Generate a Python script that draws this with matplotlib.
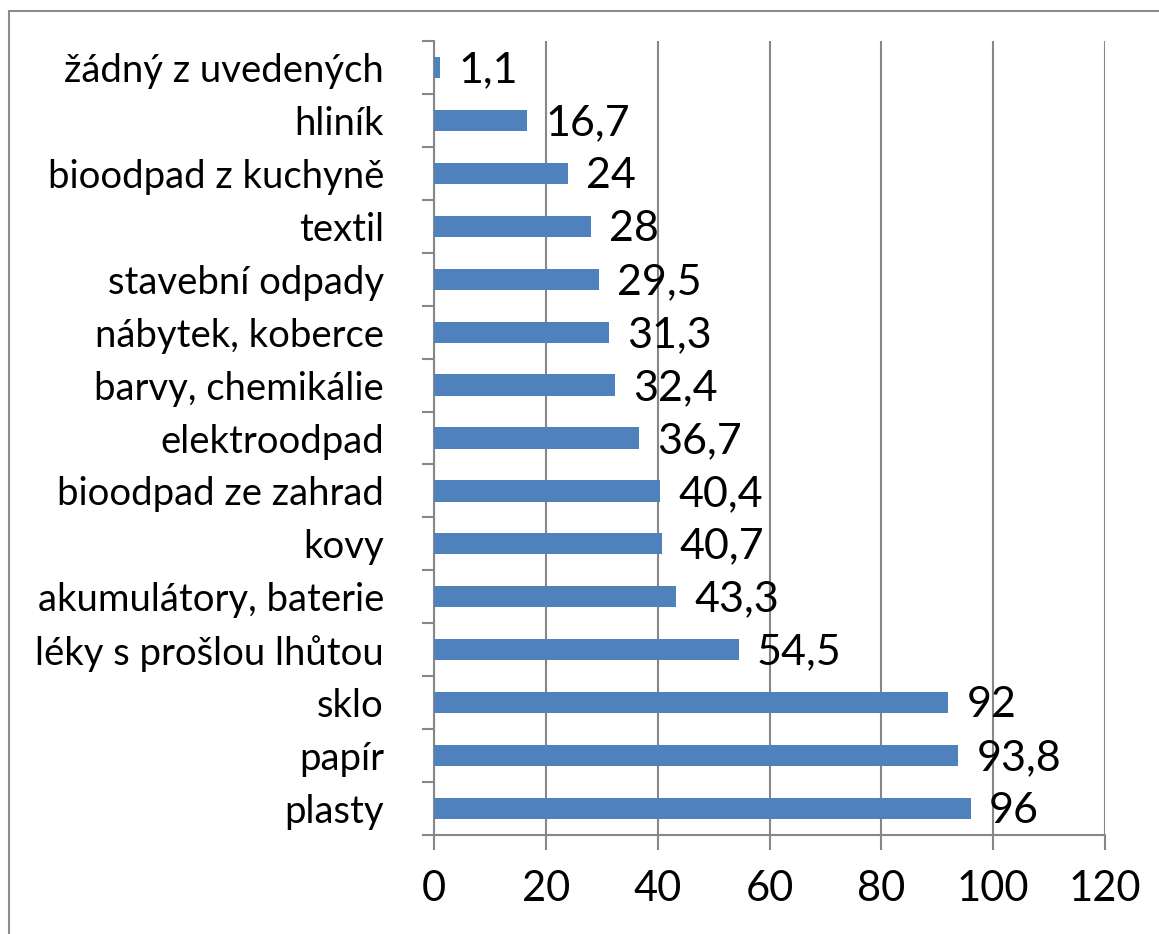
import matplotlib
matplotlib.use("Agg")
import matplotlib.pyplot as plt
from matplotlib.patches import Rectangle
import numpy as np

plt.rcParams['font.family'] = ['Lato', 'DejaVu Sans']

categories = ['plasty', 'papír', 'sklo', 'léky s prošlou lhůtou', 'akumulátory, baterie',
              'kovy', 'bioodpad ze zahrad', 'elektroodpad', 'barvy, chemikálie',
              'nábytek, koberce', 'stavební odpady', 'textil', 'bioodpad z kuchyně',
              'hliník', 'žádný z uvedených']
values = [96, 93.8, 92, 54.5, 43.3, 40.7, 40.4, 36.7, 32.4, 31.3, 29.5, 28, 24, 16.7, 1.1]
xticks = [0, 20, 40, 60, 80, 100, 120]

bar_color = '#4F81BD'
grid_color = '#878787'

fig = plt.figure(figsize=(11.59, 9.34), dpi=100)
ax = fig.add_axes([434 / 1159, 1 - 835 / 934, (1105 - 434) / 1159, (835 - 41) / 934])

# outer chart border (runs off the right and bottom edges)
fig.patches.append(Rectangle((9 / 1159, -0.1), 1.2, 1 - 11 / 934 + 0.1, transform=fig.transFigure,
                             fill=False, edgecolor='#8c8c8c', linewidth=1.5))

y = np.arange(len(categories))
ax.barh(y, values, height=0.4, color=bar_color, zorder=3)

for yi, v in zip(y, values):
    ax.annotate(f'{v:g}'.replace('.', ','), (v, yi), xytext=(13, -2), textcoords='offset points',
                ha='left', va='center', fontsize=31, zorder=4)

ax.set_xlim(0, 120)
ax.set_ylim(-0.5, len(categories) - 0.5)
ax.set_xticks(xticks)
ax.set_xticklabels([str(t) for t in xticks])
ax.set_yticks(y)
ax.set_yticklabels(categories)
ax.set_yticks(np.arange(-0.5, len(categories), 1), minor=True)

ax.grid(axis='x', color=grid_color, linewidth=1.5, zorder=0)
for side in ['top', 'right']:
    ax.spines[side].set_visible(False)
for side in ['left', 'bottom']:
    ax.spines[side].set_color(grid_color)
    ax.spines[side].set_linewidth(1.5)

ax.tick_params(axis='x', length=11, width=1.5, color=grid_color, labelsize=30, pad=14)
ax.tick_params(axis='y', which='major', length=0, labelsize=27.5, pad=36)
ax.tick_params(axis='y', which='minor', length=9, width=1.5, color=grid_color)

fig.savefig('out.png', dpi=100)
